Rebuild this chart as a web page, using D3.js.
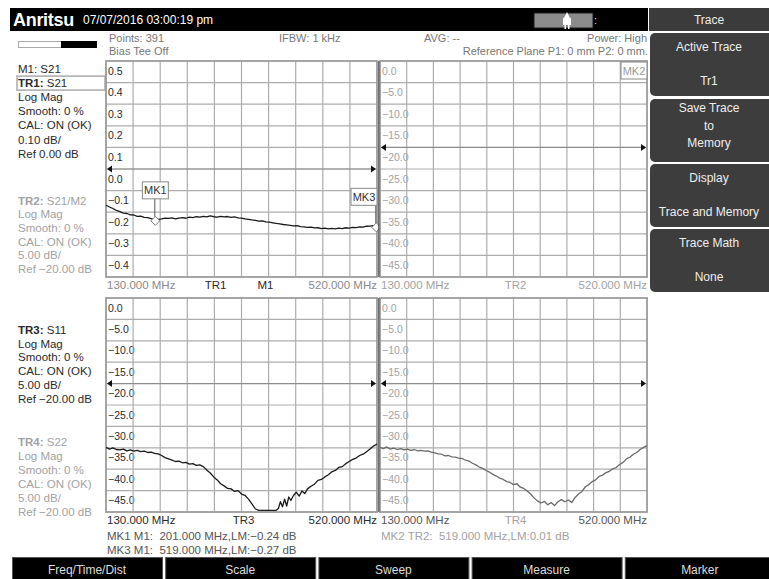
<!DOCTYPE html>
<html>
<head>
<meta charset="utf-8">
<script src="https://cdnjs.cloudflare.com/ajax/libs/d3/7.8.5/d3.min.js"></script>
<style>
  body { margin: 0; background: #fff; }
  svg { display: block; font-family: "Liberation Sans", Arial, sans-serif; }
  .pre { white-space: pre; }
</style>
</head>
<body>
<div id="chart"></div>
<script>
// sweep range, MHz
const freqRange = [130, 520];

// tick labels for each panel (one per division, top line first)
const tr1Ticks = [0.5, 0.4, 0.3, 0.2, 0.1, 0.0, -0.1, -0.2, -0.3, -0.4];
const dbTicks = [0, -5, -10, -15, -20, -25, -30, -35, -40, -45];

// TR1: S21, Log Mag, 0.10 dB/div  [MHz, dB]
const tr1Data = [
  [130, -0.168], [135, -0.176], [140, -0.183], [145, -0.192], [150, -0.197], [155, -0.204],
  [160, -0.206], [165, -0.212], [170, -0.213], [175, -0.219], [180, -0.218], [185, -0.224],
  [190, -0.225], [195, -0.230], [201, -0.236], [205, -0.233], [210, -0.231], [215, -0.227],
  [220, -0.229], [225, -0.226], [230, -0.231], [235, -0.227], [240, -0.225], [245, -0.228],
  [250, -0.223], [255, -0.225], [260, -0.221], [265, -0.223], [270, -0.219], [275, -0.222],
  [280, -0.217], [285, -0.221], [290, -0.223], [295, -0.219], [300, -0.222], [305, -0.220],
  [310, -0.224], [315, -0.222], [320, -0.226], [325, -0.227], [330, -0.231], [335, -0.233],
  [340, -0.236], [345, -0.238], [350, -0.241], [355, -0.240], [360, -0.245], [365, -0.246],
  [370, -0.249], [375, -0.252], [380, -0.254], [385, -0.257], [390, -0.259], [395, -0.261],
  [400, -0.263], [405, -0.262], [410, -0.267], [415, -0.268], [420, -0.270], [425, -0.269],
  [430, -0.273], [435, -0.272], [440, -0.276], [445, -0.274], [450, -0.277], [455, -0.275],
  [460, -0.277], [465, -0.274], [470, -0.276], [475, -0.272], [480, -0.274], [485, -0.270],
  [490, -0.271], [495, -0.268], [500, -0.269], [505, -0.265], [510, -0.264], [515, -0.262],
  [519, -0.265], [520, -0.262]
];

// TR3: S11, Log Mag, 5 dB/div
const tr3Data = [
  [130, -34.9], [135, -35.3], [140, -35.0], [145, -35.4], [150, -35.5], [155, -35.3],
  [160, -35.7], [165, -35.5], [170, -35.8], [175, -35.6], [180, -35.9], [185, -35.8],
  [190, -36.1], [195, -36.0], [200, -36.3], [205, -36.4], [210, -36.8], [215, -37.3],
  [220, -37.6], [225, -37.9], [230, -38.2], [235, -38.1], [240, -38.5], [245, -38.4],
  [250, -38.8], [255, -38.7], [260, -39.1], [265, -39.0], [270, -39.4], [275, -40.2],
  [280, -40.9], [285, -41.8], [290, -42.5], [295, -43.4], [300, -43.9], [305, -44.5],
  [310, -44.6], [315, -45.2], [320, -45.0], [325, -45.8], [330, -46.1], [335, -47.0],
  [340, -48.1], [345, -49.3], [350, -49.6], [355, -49.6], [360, -49.6], [365, -49.6],
  [370, -49.6], [375, -49.6], [378, -49.2], [381, -47.6], [384, -48.8], [387, -47.0],
  [390, -48.6], [393, -46.5], [396, -47.3], [400, -46.1], [404, -45.4], [408, -46.3],
  [412, -45.1], [416, -45.7], [420, -44.6], [425, -44.0], [430, -43.5], [435, -42.6],
  [440, -42.4], [445, -41.8], [450, -41.3], [455, -40.6], [460, -40.3], [465, -39.6],
  [470, -39.4], [475, -38.7], [480, -38.2], [485, -37.7], [490, -37.4], [495, -36.8],
  [500, -36.5], [505, -35.9], [510, -35.3], [515, -34.6], [520, -34.1]
];

// TR4: S22, Log Mag, 5 dB/div
const tr4Data = [
  [130, -34.9], [135, -35.2], [140, -34.8], [145, -35.3], [150, -35.1], [155, -35.4],
  [160, -35.2], [165, -35.5], [170, -35.3], [175, -35.6], [180, -35.4], [185, -35.7],
  [190, -35.6], [195, -35.8], [200, -35.7], [205, -36.0], [210, -36.2], [215, -36.4],
  [220, -36.5], [225, -36.9], [230, -36.8], [235, -37.1], [240, -37.2], [245, -37.4],
  [250, -37.5], [255, -37.9], [260, -38.1], [265, -38.6], [270, -39.0], [275, -39.5],
  [280, -39.8], [285, -40.3], [290, -40.7], [295, -41.2], [300, -41.6], [305, -42.1],
  [310, -42.4], [315, -42.9], [320, -43.1], [325, -43.6], [330, -43.4], [335, -44.2],
  [340, -44.5], [345, -45.1], [350, -45.8], [355, -46.7], [360, -47.4], [365, -47.9],
  [370, -47.5], [375, -48.3], [380, -47.8], [385, -48.5], [390, -47.6], [395, -47.1],
  [400, -47.6], [405, -47.2], [410, -47.8], [415, -46.6], [420, -45.8], [425, -45.2],
  [430, -44.1], [435, -43.6], [440, -42.9], [445, -42.5], [450, -41.7], [455, -41.4],
  [460, -40.8], [465, -40.5], [470, -39.9], [475, -39.6], [480, -38.9], [485, -38.4],
  [490, -37.6], [495, -37.2], [500, -36.5], [505, -36.1], [510, -35.4], [515, -34.9],
  [520, -34.5]
];

// markers
const tr1Markers = [
  { name: "MK1", trace: "M1", f: 201, db: -0.24 },
  { name: "MK3", trace: "M1", f: 519, db: -0.27 }
];
const tr2Markers = [
  { name: "MK2", trace: "TR2", f: 519, db: 0.01 }
];

// left side trace info
const tr1Info = ["M1: S21", "TR1:| S21", "Log Mag", "Smooth: 0 %", "CAL: ON (OK)", "0.10 dB/", "Ref 0.00 dB"];
const tr2Info = ["TR2:| S21/M2", "Log Mag", "Smooth: 0 %", "CAL: ON (OK)", "5.00 dB/", "Ref \u221220.00 dB"];
const tr3Info = ["TR3:| S11", "Log Mag", "Smooth: 0 %", "CAL: ON (OK)", "5.00 dB/", "Ref \u221220.00 dB"];
const tr4Info = ["TR4:| S22", "Log Mag", "Smooth: 0 %", "CAL: ON (OK)", "5.00 dB/", "Ref \u221220.00 dB"];

const menuTitle = "Trace";
const menuButtons = [["Active Trace", "Tr1"], ["Save Trace", "to", "Memory"], ["Display", "Trace and Memory"], ["Trace Math", "None"]];
const softKeys = ["Freq/Time/Dist", "Scale", "Sweep", "Measure", "Marker"];

const W = 769, H = 579;
const DARK = "#2a2a2a", GREY = "#a2a2a2";
const svg = d3.select("#chart").append("svg").attr("width", W).attr("height", H);

// ---- header bar
svg.append("rect").attr("x", 10).attr("y", 8).attr("width", 638).attr("height", 23).attr("fill", "#000");
svg.append("text").attr("x", 13).attr("y", 26).attr("fill", "#fff")
  .attr("font-size", 18).attr("font-weight", "bold").attr("letter-spacing", -0.3).text("Anritsu");
svg.append("text").attr("x", 83).attr("y", 24).attr("fill", "#fff").attr("font-size", 12)
  .text("07/07/2016 03:00:19 pm");

// power icon
svg.append("rect").attr("x", 534).attr("y", 13).attr("width", 59).attr("height", 15)
  .attr("fill", "#8c8c8c").attr("stroke", "#1a1a1a");
svg.append("path").attr("fill", "#fff")
  .attr("d", "M567,12 L564,18 L563,18 L563,25 L564.5,25 L564.5,29 L566,29 L566,25 L568,25 L568,29 L569.5,29 L569.5,25 L571,25 L571,18 L570,18 Z");
svg.append("text").attr("x", 594).attr("y", 24).attr("fill", "#ddd").attr("font-size", 11).text(":");

// signal bar
svg.append("rect").attr("x", 18.5).attr("y", 41.5).attr("width", 78).attr("height", 6)
  .attr("fill", "#fff").attr("stroke", "#aaa");
svg.append("rect").attr("x", 61).attr("y", 41).attr("width", 36).attr("height", 7).attr("fill", "#000");

// status lines
const status = svg.append("g").attr("font-size", 11).attr("fill", "#777");
status.append("text").attr("x", 109).attr("y", 42).text("Points: 391");
status.append("text").attr("x", 109).attr("y", 55).text("Bias Tee Off");
status.append("text").attr("x", 279).attr("y", 42).text("IFBW: 1 kHz");
status.append("text").attr("x", 424).attr("y", 42).text("AVG: --");
status.append("text").attr("x", 647).attr("y", 42).attr("text-anchor", "end").text("Power: High");
status.append("text").attr("x", 648).attr("y", 55).attr("text-anchor", "end").text("Reference Plane P1: 0 mm P2: 0 mm.");

// ---- right side menu
svg.append("rect").attr("x", 649).attr("y", 8).attr("width", 120).attr("height", 23).attr("fill", "#3b3b3b");
svg.append("text").attr("x", 709).attr("y", 23.5).attr("text-anchor", "middle").attr("fill", "#eee")
  .attr("font-size", 12).text(menuTitle);
const btnTops = [33, 99, 164, 229];
menuButtons.forEach((lines, i) => {
  const top = btnTops[i];
  svg.append("rect").attr("x", 650).attr("y", top).attr("width", 124).attr("height", 63)
    .attr("rx", 5).attr("fill", "#3d3d3d");
  const offs = lines.length === 3 ? [13, 31, 48] : [18, 52];
  lines.forEach((t, j) => {
    svg.append("text").attr("x", 709).attr("y", top + offs[j]).attr("text-anchor", "middle")
      .attr("fill", "#eee").attr("font-size", 12).text(t);
  });
});

// ---- bottom soft keys
softKeys.forEach((k, i) => {
  const x0 = 12 + i * 153.2;
  svg.append("rect").attr("x", x0 + 0.5).attr("y", 557.5).attr("width", 150).attr("height", 24)
    .attr("fill", "#000").attr("stroke", "#555");
  svg.append("text").attr("x", x0 + 75).attr("y", 574).attr("text-anchor", "middle")
    .attr("fill", "#ddd").attr("font-size", 12).text(k);
});

// ---- left info blocks
function infoBlock(lines, y0, step, color, boxed) {
  const g = svg.append("g").attr("font-size", 11.5).attr("fill", color);
  lines.forEach((l, i) => {
    const t = g.append("text").attr("x", 18).attr("y", y0 + i * step);
    const parts = l.split("|");
    if (parts.length > 1) {
      t.append("tspan").attr("font-weight", "bold").text(parts[0]);
      t.append("tspan").text(parts[1]);
    } else t.text(l);
  });
  if (boxed !== undefined) {
    svg.append("rect").attr("x", 17).attr("y", y0 + boxed * step - 11).attr("width", 88).attr("height", 14)
      .attr("fill", "none").attr("stroke", "#b0b0b0").attr("stroke-width", 1.6);
  }
}
infoBlock(tr1Info, 73, 14.1, DARK, 1);
infoBlock(tr2Info, 204.5, 13.7, GREY);
infoBlock(tr3Info, 334, 13.7, DARK);
infoBlock(tr4Info, 445.7, 14, GREY);

// ---- panels
const fmtTick = d3.format(".1f");
const fmtDb = d3.format(".2f");

function drawPanel(p) {
  const x = d3.scaleLinear().domain(freqRange).range([p.x0, p.x1]);
  const yTop = p.ticks[0], step = p.ticks[0] - p.ticks[1];
  const y = d3.scaleLinear().domain([yTop, yTop - 10 * step]).range([p.y0, p.y1]);
  const g = svg.append("g");

  g.append("rect").attr("x", p.x0).attr("y", p.y0).attr("width", p.x1 - p.x0).attr("height", p.y1 - p.y0)
    .attr("fill", "#fff");

  // scale labels sit under the grid lines
  g.selectAll("text.tick").data(p.ticks).join("text").attr("class", "tick")
    .attr("x", p.x0 + 2).attr("y", d => y(d) + 13.5)
    .attr("font-size", 10.5).attr("fill", p.tickColor)
    .text(d => fmtTick(d));

  const xs = d3.range(11).map(i => freqRange[0] + i * (freqRange[1] - freqRange[0]) / 10);
  const ys = d3.range(11).map(i => yTop - i * step);
  g.selectAll("line.vx").data(xs.slice(1, -1)).join("line")
    .attr("x1", d => x(d)).attr("x2", d => x(d)).attr("y1", p.y0).attr("y2", p.y1)
    .attr("stroke", "#adadad").attr("stroke-width", 1.2);
  g.selectAll("line.hy").data(ys.slice(1, -1)).join("line")
    .attr("y1", d => y(d)).attr("y2", d => y(d)).attr("x1", p.x0).attr("x2", p.x1)
    .attr("stroke", "#adadad").attr("stroke-width", 1.2);
  g.append("rect").attr("x", p.x0).attr("y", p.y0).attr("width", p.x1 - p.x0).attr("height", p.y1 - p.y0)
    .attr("fill", "none").attr("stroke", "#9c9c9c").attr("stroke-width", 1.8);

  // reference line with arrows
  const ry = y(p.ref);
  g.append("line").attr("x1", p.x0 + 2).attr("x2", p.x1 - 2).attr("y1", ry).attr("y2", ry)
    .attr("stroke", "#8a8a8a").attr("stroke-width", 1);
  g.append("path").attr("fill", "#111")
    .attr("d", `M${p.x0 + 1},${ry} L${p.x0 + 6},${ry - 3.5} L${p.x0 + 6},${ry + 3.5} Z`);
  g.append("path").attr("fill", "#111")
    .attr("d", `M${p.x1 - 1},${ry} L${p.x1 - 6},${ry - 3.5} L${p.x1 - 6},${ry + 3.5} Z`);

  // trace
  if (p.data) {
    const line = d3.line().x(d => x(d[0])).y(d => y(d[1]));
    g.append("path").datum(p.data).attr("d", line).attr("fill", "none")
      .attr("stroke", p.traceColor).attr("stroke-width", 1.3).attr("stroke-linejoin", "round");
  }

  // markers
  (p.markers || []).forEach(m => {
    const mx = x(m.f), my = y(m.db);
    const bw = 26, bh = 17;
    const bx = Math.max(p.x0 + 1, Math.min(p.x1 - bw, mx - bw / 2));
    const by = Math.max(p.y0 + 1, my - 22 - bh);
    if (my > p.y0 + 2) {
      g.append("line").attr("x1", mx - 0.5).attr("x2", mx - 0.5).attr("y1", by + bh).attr("y2", my - 4)
        .attr("stroke", "#555").attr("stroke-width", 1);
      g.append("path").attr("d", `M${mx},${my - 4.5} L${mx + 4.5},${my} L${mx},${my + 4.5} L${mx - 4.5},${my} Z`)
        .attr("fill", "#fff").attr("stroke", "#777").attr("stroke-width", 1);
    }
    g.append("rect").attr("x", bx).attr("y", by).attr("width", bw).attr("height", bh)
      .attr("fill", "#fff").attr("stroke", "#888").attr("stroke-width", 1);
    g.append("text").attr("x", bx + bw / 2).attr("y", by + 12.5).attr("text-anchor", "middle")
      .attr("font-size", 11).attr("fill", p.markerColor).text(m.name);
  });

  // frequency labels
  const fy = p.y1 + 12;
  const fl = g.append("g").attr("font-size", 11.5);
  fl.append("text").attr("x", p.x0 + 1).attr("y", fy).attr("fill", p.freqColor)
    .text(freqRange[0].toFixed(3) + " MHz");
  fl.append("text").attr("x", p.x1).attr("y", fy).attr("text-anchor", "end").attr("fill", p.freqColor)
    .text(freqRange[1].toFixed(3) + " MHz");
  const cx = (p.x0 + p.x1) / 2;
  if (p.sub) {
    fl.append("text").attr("x", cx - 26).attr("y", fy).attr("text-anchor", "middle").attr("fill", p.nameColor).text(p.name);
    fl.append("text").attr("x", cx + 24).attr("y", fy).attr("text-anchor", "middle").attr("fill", p.nameColor).text(p.sub);
  } else {
    fl.append("text").attr("x", cx + 2).attr("y", fy).attr("text-anchor", "middle").attr("fill", p.nameColor).text(p.name);
  }

  // marker readouts
  if (p.readouts) {
    p.readouts.forEach((m, i) => {
      fl.append("text").attr("class", "pre").attr("x", p.x0 + 1).attr("y", fy + 16 + i * 14)
        .attr("fill", p.readColor)
        .text(`${m.name} ${m.trace}:  ${m.f.toFixed(3)} MHz,LM:${fmtDb(m.db).replace("-", "\u2212")} dB`);
    });
  }
}

drawPanel({ x0: 106, x1: 377, y0: 61, y1: 277, ticks: tr1Ticks, ref: 0, data: tr1Data, traceColor: "#1a1a1a",
  tickColor: DARK, freqColor: "#8a8a8a", nameColor: DARK, name: "TR1", sub: "M1", markers: tr1Markers, markerColor: "#333" });
drawPanel({ x0: 380, x1: 647, y0: 61, y1: 277, ticks: dbTicks, ref: -20, data: null,
  tickColor: GREY, freqColor: GREY, nameColor: GREY, name: "TR2", markers: tr2Markers, markerColor: "#999" });
drawPanel({ x0: 106, x1: 377, y0: 298, y1: 512, ticks: dbTicks, ref: -20, data: tr3Data, traceColor: "#1a1a1a",
  tickColor: DARK, freqColor: DARK, nameColor: DARK, name: "TR3", readouts: tr1Markers, readColor: "#555" });
drawPanel({ x0: 380, x1: 647, y0: 298, y1: 512, ticks: dbTicks, ref: -20, data: tr4Data, traceColor: "#6a6a6a",
  tickColor: GREY, freqColor: "#555", nameColor: GREY, name: "TR4", readouts: tr2Markers, readColor: GREY });

// dark divider between left and right panel columns
[[61, 277], [298, 512]].forEach(([a, b]) => {
  svg.append("line").attr("x1", 378.8).attr("x2", 378.8).attr("y1", a).attr("y2", b)
    .attr("stroke", "#333").attr("stroke-width", 1);
});
</script>
</body>
</html>
